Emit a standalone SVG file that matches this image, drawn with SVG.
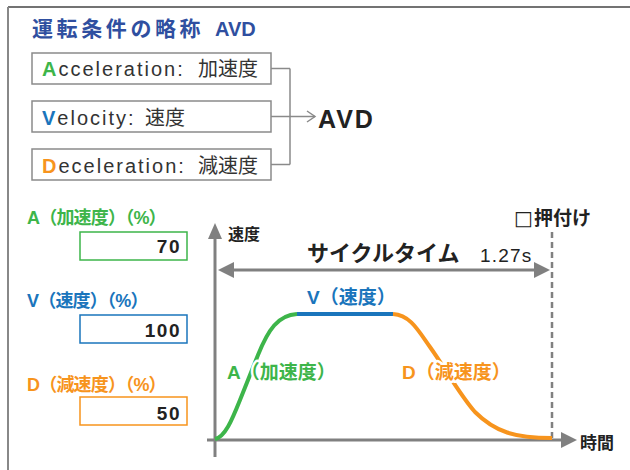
<svg xmlns="http://www.w3.org/2000/svg" width="630" height="470" viewBox="0 0 630 470">
<defs>
<style>
text{font-family:"Liberation Sans","Noto Sans CJK JP",sans-serif;}
.box{fill:#fff;stroke:#8a8a8a;stroke-width:1.5;}
.bt{font-size:20px;fill:#333;}
.lat{letter-spacing:2px;}
.g{fill:#3db54a;}
.b{fill:#1a75bc;}
.o{fill:#f7941d;}
.bold{font-weight:bold;}
.conn{fill:none;stroke:#8a8a8a;stroke-width:1.5;}
.axis{fill:none;stroke:#808080;stroke-width:3;}
.ah{fill:#808080;}
.lbl{font-size:18px;font-weight:bold;letter-spacing:-0.8px;}
.num{font-size:19px;font-weight:bold;fill:#222;letter-spacing:1.5px;text-anchor:end;}
.halo{paint-order:stroke;stroke:#fff;stroke-width:5px;stroke-linejoin:round;}
</style>
</defs>
<rect width="630" height="470" fill="#fff"/>
<line x1="8" y1="7" x2="630" y2="7" stroke="#444" stroke-width="1.5"/>
<line x1="8" y1="7" x2="8" y2="470" stroke="#888" stroke-width="2"/>

<g id="title">
<text x="32" y="36" font-size="21" font-weight="bold" fill="#2f4fa0"><tspan letter-spacing="3.6">運転条件の略称</tspan><tspan x="215" font-size="20">AVD</tspan></text>
</g>

<g id="node-acceleration">
<rect class="box" x="32" y="53" width="239" height="31"/>
<text class="bt" x="42" y="76"><tspan class="lat"><tspan class="g bold">A</tspan>cceleration:</tspan><tspan x="198">加速度</tspan></text>
</g>
<g id="node-velocity">
<rect class="box" x="32" y="101" width="239" height="31"/>
<text class="bt" x="42" y="125"><tspan class="lat"><tspan class="b bold">V</tspan>elocity:</tspan><tspan x="145">速度</tspan></text>
</g>
<g id="node-deceleration">
<rect class="box" x="32" y="149" width="239" height="31"/>
<text class="bt" x="42" y="173"><tspan class="lat"><tspan class="o bold">D</tspan>eceleration:</tspan><tspan x="198">減速度</tspan></text>
</g>
<g id="node-avd">
<text x="318" y="128" font-size="25" font-weight="bold" fill="#222" letter-spacing="2">AVD</text>
</g>

<g id="connectors">
<path class="conn" d="M271,68.5 H290 M271,116.5 H290 M271,164.5 H290 M290,68.5 V164.5 M290,116.5 H315"/>
<path class="conn" d="M307,111 L315,116.5 L307,122"/>
</g>

<g id="inputs">
<g id="input-a">
<text class="lbl g" x="27" y="224">A（加速度）（%）</text>
<rect x="80" y="232" width="107" height="28" fill="#fff" stroke="#3db54a" stroke-width="1.5"/>
<text class="num" x="181" y="253">70</text>
</g>
<g id="input-v">
<text class="lbl b" x="27" y="307">V（速度）（%）</text>
<rect x="80" y="315" width="107" height="28" fill="#fff" stroke="#1a75bc" stroke-width="1.5"/>
<text class="num" x="181" y="337">100</text>
</g>
<g id="input-d">
<text class="lbl o" x="27" y="391">D（減速度）（%）</text>
<rect x="80" y="397" width="107" height="28" fill="#fff" stroke="#f7941d" stroke-width="1.5"/>
<text class="num" x="181" y="420">50</text>
</g>
</g>

<g id="chart">
<line class="axis" x1="215" y1="236" x2="215" y2="457"/>
<polygon class="ah" points="215,223 222,239 208,239"/>
<line class="axis" x1="207" y1="440" x2="563" y2="440"/>
<polygon class="ah" points="577,440 561,432 561,448"/>
<line x1="552" y1="232" x2="552" y2="440" stroke="#808080" stroke-width="2.5" stroke-dasharray="6,4"/>
<line class="axis" x1="230" y1="270" x2="537" y2="270"/>
<polygon class="ah" points="218,270 234,262 234,278"/>
<polygon class="ah" points="550,270 534,262 534,278"/>
<text x="228" y="240" font-size="16" font-weight="bold" fill="#222">速度</text>
<text x="580" y="449" font-size="17" font-weight="bold" fill="#222">時間</text>
<text x="514" y="225" font-size="19" font-weight="bold" fill="#222"><tspan font-weight="normal" style="font-family:'DejaVu Sans',sans-serif" font-size="20">□</tspan><tspan x="534">押付け</tspan></text>
<text x="307" y="261" font-size="22" font-weight="bold" fill="#222">サイクルタイム</text>
<text x="480" y="262" font-size="19" fill="#222" letter-spacing="1.2">1.27s</text>
<path d="M215,439 C225,437 232,420 240,400 L258,355 C268,330 278,315 297,314" fill="none" stroke="#3db54a" stroke-width="4"/>
<path d="M297,314 H393" fill="none" stroke="#1a75bc" stroke-width="4"/>
<path d="M393,314 C410,315 418,330 430,347 C445,368 460,395 475,412 C495,432 515,438 552,438" fill="none" stroke="#f7941d" stroke-width="4"/>
<text class="b halo" x="307" y="304" font-size="19" font-weight="bold">V（速度）</text>
<text class="g halo" x="227" y="379" font-size="19" font-weight="bold">A（加速度）</text>
<text class="o halo" x="402" y="379" font-size="19" font-weight="bold">D（減速度）</text>
</g>
</svg>
